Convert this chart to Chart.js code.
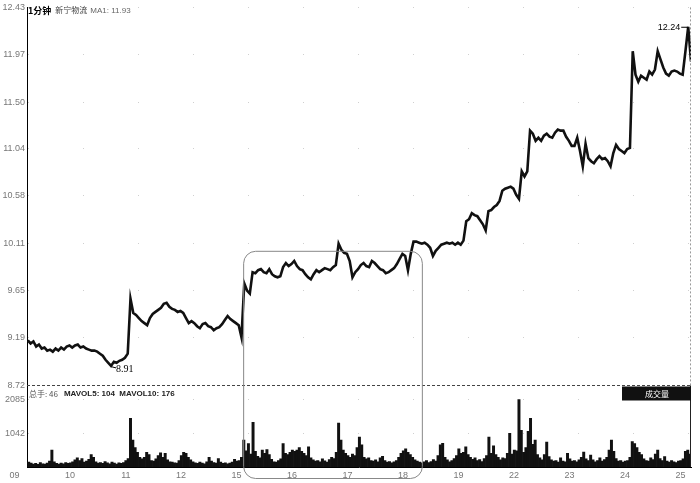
<!DOCTYPE html>
<html>
<head>
<meta charset="utf-8">
<script src="https://cdn.jsdelivr.net/npm/chart.js@4/dist/chart.umd.min.js"></script>
<style>
  html, body { margin: 0; padding: 0; background: #fff; }
</style>
</head>
<body>
<canvas id="minuteChart" width="700" height="483"></canvas>
<script>

// trading days shown on the time axis
const days = ['09', '10', '11', '12', '15', '16', '17', '18', '19', '22', '23', '24', '25'];

// price samples, 20 per day (day 09 is cut off on the left, first 3 samples missing)
const priceStep = 20;
const priceFirst = 3;
const price = [
  9.16, 9.13, 9.15, 9.10, 9.12, 9.08, 9.09, 9.06, 9.07, 9.05, 9.08, 9.06, 9.09, 9.07, 9.10, 9.11, 9.09,
  9.11, 9.12, 9.09, 9.10, 9.08, 9.07, 9.06, 9.06, 9.05, 9.03, 9.01, 8.97, 8.94, 8.91, 8.95, 8.94, 8.96, 8.97, 8.99, 9.03,
  9.57, 9.43, 9.41, 9.38, 9.35, 9.33, 9.31, 9.38, 9.42, 9.44, 9.46, 9.48, 9.52, 9.53, 9.49, 9.47, 9.46, 9.44, 9.45, 9.43,
  9.38, 9.33, 9.35, 9.33, 9.30, 9.28, 9.32, 9.33, 9.30, 9.29, 9.26, 9.28, 9.29, 9.32, 9.36, 9.40, 9.37, 9.35, 9.33, 9.31,
  9.19, 9.72, 9.65, 9.62, 9.83, 9.82, 9.85, 9.86, 9.83, 9.82, 9.86, 9.81, 9.79, 9.78, 9.79, 9.88, 9.92, 9.89, 9.91, 9.94,
  9.89, 9.86, 9.85, 9.81, 9.78, 9.76, 9.81, 9.85, 9.83, 9.85, 9.87, 9.86, 9.85, 9.88, 9.90, 10.11, 10.05, 10.02, 10.01, 9.94,
  9.78, 9.83, 9.86, 9.90, 9.92, 9.89, 9.88, 9.94, 9.92, 9.89, 9.86, 9.85, 9.82, 9.83, 9.85, 9.87, 9.91, 9.96, 10.01, 9.99,
  9.85, 10.01, 10.13, 10.13, 10.12, 10.11, 10.12, 10.10, 10.07, 9.99, 10.04, 10.07, 10.10, 10.11, 10.12, 10.11, 10.12, 10.10, 10.12, 10.10,
  10.14, 10.33, 10.35, 10.41, 10.39, 10.38, 10.34, 10.30, 10.24, 10.43, 10.44, 10.47, 10.49, 10.53, 10.63, 10.65, 10.66, 10.67, 10.65, 10.59,
  10.55, 10.82, 10.77, 10.82, 11.22, 11.19, 11.12, 11.15, 11.12, 11.17, 11.19, 11.16, 11.15, 11.20, 11.23, 11.22, 11.22, 11.16, 11.12, 11.07,
  11.07, 11.15, 11.02, 10.87, 11.09, 10.95, 10.92, 10.90, 10.94, 10.97, 10.94, 10.95, 10.92, 10.87, 11.00, 11.08, 11.04, 11.02, 11.00, 11.04,
  11.05, 12.00, 11.77, 11.70, 11.76, 11.74, 11.72, 11.80, 11.77, 11.82, 12.00, 11.92, 11.84, 11.78, 11.76, 11.80, 11.81, 11.80, 11.78, 11.77,
  12.00, 12.24, 11.90
];

// volume (hands), 24 bars per day, day 09 starts at bar 4
const volStep = 24;
const volFirst = 4;
const volume = [
  150, 120, 90, 110, 80, 140, 100, 90, 120, 180, 520, 160, 110, 90, 120, 100, 140, 110, 130, 160,
  220, 280, 200, 260, 150, 180, 240, 380, 300, 160, 120, 140, 110, 170, 130, 100, 150, 120, 90, 130, 110, 140, 200, 260,
  1500, 830, 600, 450, 300, 250, 300, 450, 380, 200, 180, 250, 350, 440, 300, 420, 220, 160, 150, 130, 120, 200, 350, 450,
  420, 300, 220, 160, 130, 110, 150, 120, 100, 160, 300, 180, 140, 120, 260, 150, 110, 130, 100, 120, 150, 240, 180, 200,
  300, 830, 500, 720, 400, 1380, 480, 330, 280, 520, 420, 540, 380, 240, 160, 150, 200, 250, 720, 420, 380, 450, 520, 480,
  520, 600, 480, 420, 350, 620, 280, 220, 180, 200, 160, 250, 190, 150, 230, 300, 260, 450, 1350, 830, 520, 420, 350, 300,
  400, 350, 600, 920, 680, 300, 250, 280, 200, 180, 220, 160, 280, 330, 200, 150, 170, 130, 160, 200, 300, 420, 500, 560,
  450, 380, 300, 220, 180, 150, 130, 160, 200, 140, 170, 230, 180, 350, 680, 730, 300, 220, 160, 200, 260, 350, 560, 420,
  450, 620, 380, 300, 240, 280, 200, 230, 170, 260, 350, 920, 420, 650, 380, 300, 220, 280, 260, 420, 1040, 400, 520, 500,
  2080, 1130, 450, 600, 1100, 1500, 700, 830, 380, 280, 220, 380, 770, 320, 220, 180, 200, 150, 280, 180, 160, 420, 250, 180,
  200, 160, 220, 300, 460, 250, 200, 370, 220, 160, 200, 280, 180, 230, 300, 520, 830, 480, 260, 180, 200, 150, 180, 200,
  300, 780, 720, 600, 450, 380, 250, 200, 180, 280, 230, 400, 520, 260, 200, 320, 180, 150, 200, 160, 140, 180, 200, 250,
  480, 520, 400
];

const priceTicks = [8.72, 9.19, 9.65, 10.11, 10.58, 11.04, 11.50, 11.97, 12.43];
const volTicks = [1042, 2085];

// marked consolidation box (days 15 - 18)
const boxFrom = 4.03, boxTo = 7.25, boxTop = 10.04;

const pricePoints = price.map((p, i) => ({ x: (i + priceFirst) / priceStep, y: p }));
const volPoints = volume.map((v, i) => ({ x: (i + volFirst) / volStep, y: v }));

const tickFont = { family: 'Liberation Sans', size: 9 };

function drawRun(ctx, x, y, parts) {
  parts.forEach(p => {
    ctx.font = p.font;
    ctx.fillStyle = p.color;
    ctx.fillText(p.text, x, y);
    x += ctx.measureText(p.text).width + (p.gap || 4);
  });
}

const overlay = {
  id: 'overlay',
  afterDatasetsDraw(chart) {
    const { ctx, chartArea: a, scales } = chart;
    const xs = scales.x, ys = scales.y;
    const sep = Math.round(ys.bottom) + 0.5;
    ctx.save();

    // dashed line between price and volume panes
    ctx.lineWidth = 1;
    ctx.strokeStyle = '#444';
    ctx.setLineDash([3, 2]);
    ctx.beginPath(); ctx.moveTo(a.left, sep); ctx.lineTo(a.right, sep); ctx.stroke();

    // right border
    ctx.strokeStyle = '#999';
    ctx.setLineDash([2, 2]);
    ctx.beginPath(); ctx.moveTo(a.right - 0.5, a.top); ctx.lineTo(a.right - 0.5, sep); ctx.stroke();
    ctx.setLineDash([]);
    ctx.strokeStyle = '#222';
    ctx.beginPath(); ctx.moveTo(a.right - 0.5, sep); ctx.lineTo(a.right - 0.5, a.bottom); ctx.stroke();

    // titles
    ctx.textBaseline = 'middle';
    ctx.textAlign = 'left';
    drawRun(ctx, a.left + 1, a.top + 3, [
      { text: '1分钟', font: 'bold 9px "Noto Sans CJK SC"', color: '#000' },
      { text: '新宁物流', font: '8px "Noto Sans CJK SC"', color: '#444', gap: 3 },
      { text: 'MA1: 11.93', font: '8px "Liberation Sans"', color: '#666' }
    ]);
    drawRun(ctx, a.left + 2, sep + 8, [
      { text: '总手: 46', font: '8px "Noto Sans CJK SC"', color: '#555', gap: 6 },
      { text: 'MAVOL5: 104  MAVOL10: 176', font: 'bold 8px "Liberation Sans"', color: '#222' }
    ]);

    // volume tag
    ctx.fillStyle = '#111';
    ctx.fillRect(a.right - 69, sep + 1, 69, 14);
    ctx.fillStyle = '#fff';
    ctx.textAlign = 'center';
    ctx.font = '8px "Noto Sans CJK SC"';
    ctx.fillText('成交量', a.right - 34, sep + 8);

    // low / high markers
    let lo = 0, hi = 0;
    price.forEach((p, i) => { if (p < price[lo]) lo = i; if (p > price[hi]) hi = i; });
    const lx = xs.getPixelForValue(pricePoints[lo].x), ly = ys.getPixelForValue(price[lo]);
    const hx = xs.getPixelForValue(pricePoints[hi].x), hy = ys.getPixelForValue(price[hi]);
    ctx.strokeStyle = '#000';
    ctx.lineWidth = 1;
    ctx.beginPath(); ctx.moveTo(lx + 1, ly + 1); ctx.lineTo(lx + 5, ly + 2); ctx.stroke();
    ctx.fillStyle = '#000';
    ctx.textAlign = 'left';
    ctx.font = '10px "Liberation Serif"';
    ctx.fillText(price[lo].toFixed(2), lx + 5, ly + 3);
    ctx.beginPath(); ctx.moveTo(hx - 7, hy + 0.5); ctx.lineTo(hx - 1, hy + 0.5); ctx.lineTo(hx, hy + 3); ctx.stroke();
    ctx.textAlign = 'right';
    ctx.font = '9px "Liberation Sans"';
    ctx.fillText(price[hi].toFixed(2), hx - 8, hy + 1);

    // rounded frame around days 15-18
    const bx0 = xs.getPixelForValue(boxFrom), bx1 = xs.getPixelForValue(boxTo);
    const by0 = ys.getPixelForValue(boxTop), by1 = chart.height - 5;
    ctx.strokeStyle = '#888';
    ctx.lineWidth = 1;
    ctx.beginPath();
    ctx.roundRect(bx0 + 0.5, by0 + 0.5, bx1 - bx0, by1 - by0, 12);
    ctx.stroke();

    ctx.restore();
  }
};

new Chart(document.getElementById('minuteChart'), {
  type: 'line',
  data: {
    datasets: [{
      type: 'line',
      data: pricePoints,
      yAxisID: 'y',
      borderColor: '#111',
      borderWidth: 2.6,
      pointRadius: 0,
      tension: 0
    }, {
      type: 'bar',
      data: volPoints,
      yAxisID: 'vol',
      backgroundColor: '#111',
      barPercentage: 1,
      categoryPercentage: 1
    }]
  },
  options: {
    responsive: false,
    animation: false,
    layout: { padding: { top: 6, right: 9, left: 0, bottom: 0 } },
    plugins: { legend: { display: false }, tooltip: { enabled: false } },
    scales: {
      x: {
        type: 'linear',
        offset: false,
        bounds: 'data',
        min: 0.135,
        max: 12.1,
        afterBuildTicks: s => { s.ticks = days.map((d, i) => ({ value: i })); },
        afterFit: s => { s.height = 16; s.paddingLeft = 0; s.paddingRight = 0; },
        ticks: {
          align: 'end', autoSkip: false, maxRotation: 0, padding: 3,
          color: '#777', font: tickFont,
          callback: (v, i) => days[i]
        },
        grid: { display: false, drawTicks: false, offset: false },
        border: { color: '#000' }
      },
      y: {
        type: 'linear',
        position: 'left',
        stack: 'panes',
        stackWeight: 379,
        weight: 2,
        min: 8.72,
        max: 12.43,
        afterBuildTicks: s => { s.ticks = priceTicks.map(v => ({ value: v })); },
        afterFit: s => { s.width = 27; },
        ticks: { color: '#777', font: tickFont, padding: 2, callback: v => v.toFixed(2) },
        grid: { drawTicks: false, color: '#cfcfcf' },
        border: { color: '#000', dash: [1, 54] }
      },
      vol: {
        type: 'linear',
        position: 'left',
        stack: 'panes',
        stackWeight: 82,
        weight: 1,
        min: 0,
        max: 2520,
        afterBuildTicks: s => { s.ticks = volTicks.map(v => ({ value: v })); },
        afterFit: s => { s.width = 27; },
        ticks: { color: '#777', font: tickFont, padding: 2, callback: v => String(v) },
        grid: { drawTicks: false, color: '#cfcfcf' },
        border: { color: '#000', dash: [1, 54] }
      }
    }
  },
  plugins: [overlay]
});
</script>
</body>
</html>
